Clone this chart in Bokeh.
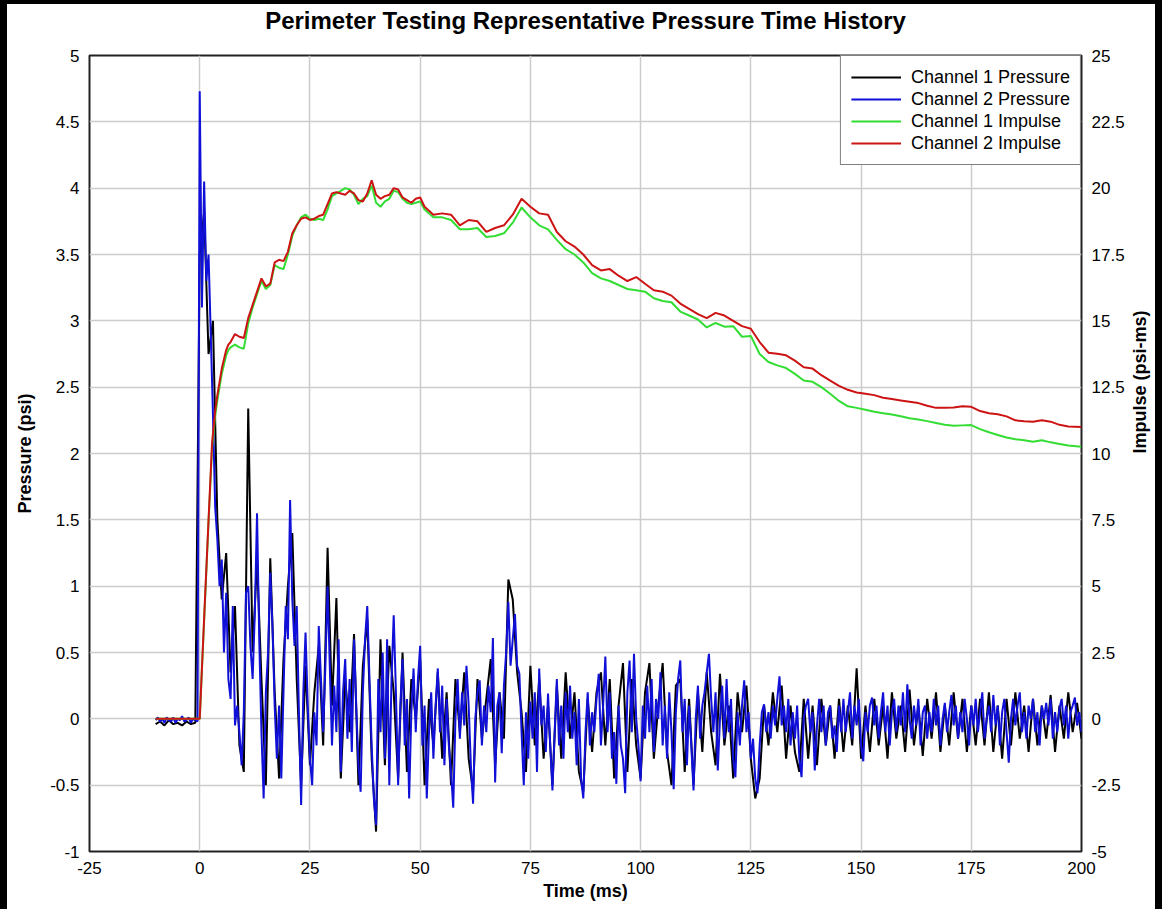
import math
import numpy as np
from bokeh.plotting import figure
from bokeh.models import Range1d, LinearAxis, FixedTicker, Legend, LegendItem, InlineStyleSheet
from bokeh.embed import file_html
from bokeh.resources import INLINE

TITLE = "Perimeter Testing Representative Pressure Time History"
x_ticks = [-25, 0, 25, 50, 75, 100, 125, 150, 175, 200]
p_ticks = [-1, -0.5, 0, 0.5, 1, 1.5, 2, 2.5, 3, 3.5, 4, 4.5, 5]
i_ticks = [-5, -2.5, 0, 2.5, 5, 7.5, 10, 12.5, 15, 17.5, 20, 22.5, 25]

# Channel 2 pressure (psi), sampled every 0.5 ms from -10 ms
ch2_pre = [-0.01, 0.01, -0.02, 0.0, -0.03, 0.01, -0.01, -0.02, 0.01, -0.03,
           0.0, -0.01, 0.02, -0.02, -0.01, 0.01, -0.03, 0.0, -0.01, -0.02]
ch2_main = [
    4.73, 3.1, 4.05, 3.3, 3.5, 2.9, 2.3, 1.6, 1.35, 1.0, 1.2, 0.5, 0.95, 0.3, 0.15, 0.85, -0.05, 0.1, -0.1, -0.35,
    0.05, 0.95, 1.0, 0.55, 0.3, 0.8, 1.55, 0.6, -0.1, -0.6, 0.2, 0.5, 1.1, 0.7, 0.1, -0.3, 0.1, -0.45, 0.2, 0.85,
    0.6, 1.65, 0.9, 0.55, 0.85, 0.05, -0.65, 0.2, 0.65, 0.1, -0.3, -0.5, 0.05, -0.2, 0.7, 0.3, -0.1, 0.4, 1.0, 0.4,
    -0.2, 0.25, -0.1, 0.6, -0.4, 0.2, 0.45, -0.15, 0.3, -0.25, 0.6, 0.1, -0.35, -0.55, 0.2, 0.6, 0.85, 0.3, -0.2, -0.6,
    -0.8, 0.3, -0.1, 0.5, -0.3, 0.6, -0.5, 0.3, 0.78, 0.2, -0.5, 0.1, 0.45, -0.2, 0.15, -0.6, 0.05, 0.38, -0.1, 0.3,
    0.55, -0.2, 0.1, -0.6, -0.1, 0.2, -0.3, 0.1, 0.38, -0.1, 0.25, -0.35, 0.15, -0.2, -0.4, -0.67, 0.0, 0.3, -0.15, 0.2,
    -0.05, 0.4, 0.1, -0.35, -0.64, 0.0, 0.2, 0.29, -0.2, 0.1, -0.1, 0.25, 0.05, 0.61, -0.48, 0.1, 0.2, -0.26, 0.25, 0.5,
    0.88, 0.4, 0.6, 0.79, 0.4, 0.34, -0.1, -0.5, 0.05, -0.3, 0.13, -0.15, 0.2, -0.4, 0.38, -0.05, 0.1, -0.25, 0.19, -0.2,
    -0.54, -0.1, 0.3, -0.2, 0.1, -0.3, 0.2, -0.1, 0.25, -0.15, 0.05, -0.35, 0.15, -0.45, -0.6, -0.1, 0.2, -0.2, 0.05, -0.1,
    0.15, 0.34, -0.2, 0.1, 0.47, -0.1, 0.2, -0.3, -0.1, -0.49, 0.1, -0.2, -0.3, -0.56, 0.2, 0.44, -0.1, 0.49, 0.0, -0.2,
    -0.47, 0.1, -0.15, 0.25, -0.1, 0.3, -0.25, 0.15, 0.0, 0.35, -0.2, 0.1, -0.3, 0.2, -0.1, -0.53, 0.05, 0.3, 0.44, -0.1,
    0.15, -0.35, 0.1, -0.2, -0.54, 0.0, 0.25, -0.15, 0.1, 0.2, 0.35, 0.49, 0.15, -0.1, 0.2, -0.39, 0.0, 0.25, -0.15, 0.3,
    -0.1, 0.15, -0.3, -0.44, 0.05, -0.2, 0.1, 0.29, -0.1, 0.05, -0.3, -0.15, -0.45, -0.56, -0.2, 0.05, 0.11, -0.1, 0.05, -0.15,
    0.1, -0.05, 0.15, 0.32, -0.05, 0.1, -0.1, 0.15, -0.2, 0.05, -0.15, 0.1, -0.3, -0.44, 0.0, 0.1, 0.15, -0.1, 0.05, -0.39,
    -0.05, 0.15, -0.1, 0.1, -0.2, 0.05, 0.1, -0.15, -0.05, -0.25, 0.1, -0.1, 0.15, -0.1, 0.05, 0.2, -0.15, 0.1, -0.05, 0.15,
    -0.2, -0.32, 0.05, -0.1, 0.1, 0.16, -0.05, 0.1, -0.15, 0.05, 0.2, -0.1, 0.1, -0.2, 0.05, 0.15, -0.1, 0.1, -0.05, 0.2,
    -0.1, 0.26, 0.0, -0.15, 0.1, -0.05, 0.15, -0.2, 0.05, 0.1, -0.15, 0.05, -0.1, 0.15, -0.05, 0.1, -0.2, 0.0, 0.12, -0.1,
    0.05, 0.18, -0.05, 0.1, -0.15, 0.05, -0.1, 0.15, 0.0, -0.2, 0.1, -0.05, 0.15, -0.1, 0.05, 0.2, -0.15, 0.0, 0.1, -0.1,
    0.18, -0.05, 0.1, -0.2, 0.05, 0.15, -0.1, -0.33, 0.0, 0.15, -0.05, 0.1, 0.2, -0.1, 0.05, -0.15, 0.1, 0.0, 0.15, -0.1,
    0.05, -0.2, 0.1, 0.0, 0.12, -0.05, 0.15, -0.15, 0.05, -0.1, 0.08, 0.15, -0.05, 0.1, -0.15, 0.05, 0.1, 0.16, -0.05, 0.05,
    -0.1,
]

# Channel 1 pressure (psi), sampled every 1 ms from -10 ms
ch1_pre = [-0.04, -0.02, -0.05, -0.01, -0.04, -0.03, -0.05, -0.02, -0.04, -0.03]
ch1_main = [
    3.5, 3.82, 2.75, 3.0, 1.5, 0.9, 1.25, 0.35, 0.85, -0.2,
    -0.4, 2.34, 0.5, 1.2, 0.3, -0.5, 1.21, 0.2, -0.45, 0.45,
    1.0, 1.4, 0.3, -0.5, 0.4, -0.35, 0.2, 0.55, -0.2, 1.29,
    0.1, 0.91, -0.45, 0.3, -0.1, 0.64, -0.5, 0.4, 0.75, -0.3,
    -0.85, 0.6, -0.35, 0.55, 0.2, -0.45, 0.5, -0.4, 0.3, 0.0,
    0.45, -0.5, 0.15, -0.2, 0.35, -0.3, 0.2, -0.5, 0.3, -0.1,
    0.35, -0.3, -0.55, 0.3, -0.15, 0.15, 0.45, -0.35, 0.2, -0.15,
    1.05, 0.9, 0.35, 0.05, -0.4, 0.4, -0.2, 0.3, -0.3, 0.1,
    -0.5, 0.25, -0.3, 0.35, -0.15, 0.2, -0.4, -0.55, 0.15, -0.25,
    0.2, 0.35, -0.2, 0.3, -0.45, 0.1, 0.42, -0.4, 0.3, -0.2,
    -0.45, 0.2, 0.42, -0.3, 0.1, 0.42, -0.25, -0.5, 0.25, 0.3,
    -0.4, 0.15, -0.5, 0.2, -0.25, 0.35, -0.1, -0.35, 0.34, -0.2,
    0.1, -0.45, 0.2, -0.1, 0.25, -0.3, -0.6, -0.45, 0.1, -0.2,
    0.2, -0.1, 0.25, -0.3, 0.1, -0.25, -0.4, 0.15, -0.3, 0.1,
    -0.35, 0.15, -0.2, 0.1, -0.3, 0.15, -0.25, 0.1, -0.2, 0.38,
    -0.3, 0.1, -0.25, 0.15, -0.2, 0.1, -0.3, 0.2, -0.15, 0.1,
    -0.25, 0.22, -0.2, 0.1, -0.28, 0.15, -0.15, 0.2, -0.25, 0.1,
    -0.2, 0.2, -0.15, 0.15, -0.25, 0.1, -0.2, 0.15, -0.2, 0.2,
    -0.25, 0.1, -0.3, 0.15, -0.2, 0.2, -0.15, 0.1, -0.25, 0.15,
    -0.2, 0.1, -0.15, 0.18, -0.25, 0.1, -0.15, 0.2, -0.1, 0.12,
    -0.15,
]

# Impulse (psi-ms)
imp_t = [-10, 0, 1, 2, 2.8, 3.5, 4, 5, 6, 6.5, 7, 8, 9, 10,
         11, 12, 13, 14, 15, 16, 17, 18, 19, 20,
         21, 22, 23, 24, 25, 26, 27, 28, 29, 30,
         31, 32, 33, 34, 35, 36, 37, 38, 39, 40,
         41, 42, 43, 44, 45, 46, 47, 48, 49, 50,
         51, 53, 55, 57, 59, 61, 63, 65, 67, 69,
         71, 73, 75, 77, 79, 81, 83, 85, 87, 89,
         91, 93, 95, 97, 99, 101, 103, 105, 107, 109,
         111, 113, 115, 117, 119, 121, 123, 125, 127, 129,
         131, 133, 135, 137, 139, 141, 143, 145, 147, 149,
         151, 153, 155, 157, 159, 161, 163, 165, 167, 169,
         171, 173, 175, 177, 179, 181, 183, 185, 187, 189,
         191, 193, 195, 197, 200]
imp_ch2 = [0.0, 0.0, 3.8, 7.5, 10.4, 11.6, 12.2, 13.2, 13.9, 14.1, 14.2, 14.5, 14.4, 14.35,
           15.1, 15.6, 16.1, 16.6, 16.3, 16.4, 17.2, 17.3, 17.25, 17.6,
           18.3, 18.6, 18.85, 18.9, 18.8, 18.85, 18.95, 19.0, 19.4, 19.8,
           19.85, 19.8, 19.75, 19.9, 19.8, 19.55, 19.5, 19.8, 20.3, 19.75,
           19.6, 19.7, 19.75, 20.0, 19.95, 19.65, 19.55, 19.45, 19.6, 19.65,
           19.3, 19.0, 19.05, 19.0, 18.6, 18.8, 18.75, 18.35, 18.5, 18.6,
           19.0, 19.6, 19.3, 19.05, 19.0, 18.35, 18.0, 17.8, 17.5, 17.1,
           16.9, 16.95, 16.7, 16.5, 16.65, 16.4, 16.15, 16.1, 15.95, 15.65,
           15.45, 15.25, 15.1, 15.3, 15.2, 15.0, 14.8, 14.7, 14.2, 13.8,
           13.76, 13.7, 13.5, 13.25, 13.2, 12.95, 12.75, 12.55, 12.4, 12.3,
           12.25, 12.2, 12.1, 12.05, 12.0, 11.95, 11.9, 11.8, 11.72, 11.72,
           11.73, 11.78, 11.76, 11.6, 11.52, 11.48, 11.4, 11.25, 11.22, 11.2,
           11.25, 11.2, 11.08, 11.02, 11.0]
imp_ch1 = [0.0, 0.0, 3.7, 7.4, 10.2, 11.4, 12.0, 13.0, 13.7, 13.9, 14.0, 14.1, 14.0, 13.95,
           14.9, 15.5, 16.0, 16.5, 16.2, 16.35, 17.1, 17.0, 16.95, 17.5,
           18.2, 18.6, 18.9, 19.0, 18.85, 18.8, 18.85, 18.8, 19.2, 19.7,
           19.8, 19.9, 20.0, 19.95, 19.75, 19.4, 19.6, 19.7, 20.1, 19.45,
           19.3, 19.5, 19.6, 19.9, 19.85, 19.6, 19.45, 19.4, 19.45, 19.5,
           19.2, 18.9, 18.9, 18.8, 18.45, 18.45, 18.5, 18.16, 18.2, 18.3,
           18.7, 19.27, 18.9, 18.6, 18.45, 18.05, 17.7, 17.5, 17.2, 16.8,
           16.6, 16.5, 16.35, 16.2, 16.15, 16.1, 15.85, 15.75, 15.7, 15.35,
           15.2, 15.05, 14.75, 14.92, 14.78, 14.8, 14.4, 14.43, 13.75, 13.45,
           13.32, 13.22, 13.0, 12.75, 12.7, 12.5, 12.25, 11.98, 11.78, 11.72,
           11.65, 11.57, 11.52, 11.47, 11.4, 11.33, 11.28, 11.22, 11.15, 11.08,
           11.05, 11.06, 11.07, 10.92, 10.8, 10.7, 10.6, 10.54, 10.5, 10.44,
           10.5, 10.42, 10.36, 10.3, 10.25]

ch2 = ch2_pre + ch2_main
ch1 = ch1_pre + ch1_main
t2 = np.arange(len(ch2)) * 0.5 - 10.0
t1 = np.arange(len(ch1)) * 1.0 - 10.0
assert len(ch2_pre) == 20 and len(ch2_main) == 401, (len(ch2_pre), len(ch2_main))
assert len(ch1_pre) == 10 and len(ch1_main) == 201, (len(ch1_pre), len(ch1_main))
assert len(imp_t) == len(imp_ch1) == len(imp_ch2), (len(imp_t), len(imp_ch1), len(imp_ch2))

FONT = "Liberation Sans"

def lab(v):
    return f"{v:g}"

p = figure(width=1162, height=909, x_range=Range1d(-25, 200), y_range=Range1d(-1, 5),
           output_backend="svg", toolbar_location=None, title=TITLE,
           min_border_left=89, min_border_right=79, min_border_top=55, min_border_bottom=58)
p.extra_y_ranges = {"imp": Range1d(-5, 25)}
p.background_fill_color = "white"
p.border_fill_color = "white"
p.border_fill_alpha = 0.0
p.outline_line_color = "#222222"
p.outline_line_width = 2

p.title.text_font = FONT
p.title.text_font_size = "24px"
p.title.text_font_style = "bold"
p.title.text_color = "black"
p.title.align = "center"
p.title.vertical_align = "top"
p.title.standoff = 0
p.title.padding = dict(left=0, right=0, top=0, bottom=20)

p.xaxis[0].ticker = FixedTicker(ticks=x_ticks)
p.xaxis[0].major_label_overrides = {v: lab(v) for v in x_ticks}
p.xaxis[0].axis_label = "Time (ms)"
p.yaxis[0].ticker = FixedTicker(ticks=p_ticks)
p.yaxis[0].major_label_overrides = {v: lab(v) for v in p_ticks}
p.yaxis[0].axis_label = "Pressure (psi)"

raxis = LinearAxis(y_range_name="imp", ticker=FixedTicker(ticks=i_ticks),
                   axis_label="Impulse (psi-ms)")
raxis.major_label_overrides = {v: lab(v) for v in i_ticks}
p.add_layout(raxis, "right")

for ax in [p.xaxis[0], p.yaxis[0], raxis]:
    ax.axis_line_color = None
    ax.major_tick_out = 0
    ax.major_tick_in = 0
    ax.minor_tick_line_color = None
    ax.major_label_text_font = FONT
    ax.major_label_text_font_size = "17px"
    ax.major_label_text_color = "black"
    ax.major_label_standoff = 10
    ax.axis_label_text_font = FONT
    ax.axis_label_text_font_size = "18px"
    ax.axis_label_text_font_style = "bold"
    ax.axis_label_text_color = "black"
p.xaxis[0].axis_label_standoff = 4
p.yaxis[0].axis_label_standoff = 12
raxis.axis_label_standoff = 12
raxis.axis_label_orientation = math.pi / 2

p.xgrid.ticker = FixedTicker(ticks=x_ticks)
p.ygrid.ticker = FixedTicker(ticks=p_ticks)
for g in [p.xgrid[0], p.ygrid[0]]:
    g.grid_line_color = "#cccccc"
    g.grid_line_width = 1.5

r1 = p.line(t1, ch1, line_color="black", line_width=2)
r2 = p.line(t2, ch2, line_color="#1010d8", line_width=2)
r3 = p.line(imp_t, imp_ch1, line_color="#33dd33", line_width=2, y_range_name="imp")
r4 = p.line(imp_t, imp_ch2, line_color="#cc1414", line_width=2, y_range_name="imp")

legend = Legend(items=[LegendItem(label="Channel 1 Pressure", renderers=[r1]),
                       LegendItem(label="Channel 2 Pressure", renderers=[r2]),
                       LegendItem(label="Channel 1 Impulse", renderers=[r3]),
                       LegendItem(label="Channel 2 Impulse", renderers=[r4])],
                location="top_right", margin=0, padding=10, spacing=0,
                label_height=22, glyph_height=22, glyph_width=50, label_standoff=10,
                border_line_color="black", border_line_width=1.5,
                label_text_font=FONT, label_text_font_size="18px", label_text_color="black",
                background_fill_color="white", background_fill_alpha=1.0)
p.add_layout(legend)

# outer black frame of the picture (drawn by the host element behind a transparent border fill)
frame_css = (":host { background-color: white; "
             "box-shadow: inset 7px 4px 0 0 black, inset -7px 0 0 0 black; }")
p.stylesheets = [InlineStyleSheet(css=frame_css)]

open("out.html", "w").write(file_html(p, INLINE))
